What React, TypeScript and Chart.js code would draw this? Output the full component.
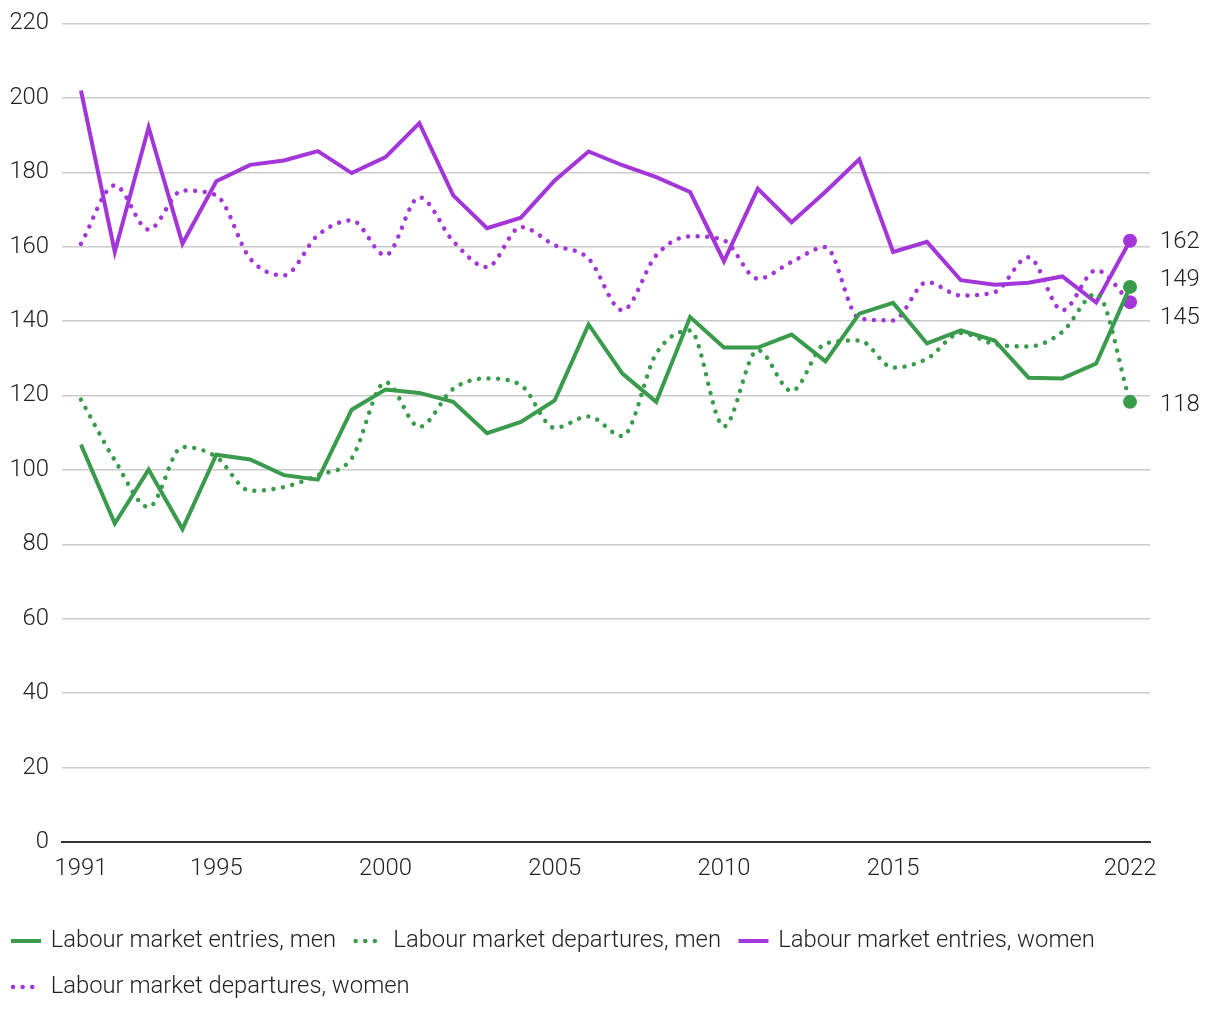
import React, { useEffect, useRef } from 'react';
import { Chart, registerables } from 'chart.js';

Chart.register(...registerables);

const years = [
  1991, 1992, 1993, 1994, 1995, 1996, 1997, 1998, 1999, 2000, 2001, 2002, 2003, 2004, 2005, 2006,
  2007, 2008, 2009, 2010, 2011, 2012, 2013, 2014, 2015, 2016, 2017, 2018, 2019, 2020, 2021, 2022,
];

const entriesMen = [
  106.8, 85.6, 100.1, 84.1, 104.1, 102.8, 98.6, 97.4, 116.2, 121.6, 120.7, 118.3,
  109.9, 112.9, 118.7, 139.1, 125.9, 118.3, 141.1, 132.9, 132.9, 136.4, 129.2,
  142.0, 144.9, 134.0, 137.5, 134.8, 124.8, 124.6, 128.6, 149.2,
];

const departuresMen = [
  118.9, 102.6, 90.0, 106.2, 103.5, 94.4, 95.4, 98.6, 103.1, 123.6, 111.6, 121.8,
  124.6, 122.8, 111.3, 114.4, 109.1, 131.3, 137.5, 111.7, 132.2, 121.2, 134.0,
  134.8, 127.5, 129.9, 136.8, 133.8, 133.2, 137.1, 147.4, 118.3,
];

const entriesWomen = [
  202.0, 158.6, 192.1, 160.8, 177.6, 182.0, 183.2, 185.7, 179.8, 184.1, 193.2, 173.8,
  165.0, 167.8, 177.8, 185.6, 181.9, 178.7, 174.7, 156.1, 175.6, 166.6, 174.8,
  183.5, 158.6, 161.3, 151.0, 149.8, 150.3, 152.0, 145.0, 161.6,
];

const departuresWomen = [
  160.8, 176.5, 164.6, 175.1, 173.8, 156.8, 152.3, 163.1, 167.1, 157.7, 173.3, 161.5,
  154.5, 165.3, 160.4, 156.8, 142.9, 157.7, 162.8, 161.7, 151.4, 155.9, 159.9,
  140.7, 140.2, 150.5, 146.9, 147.8, 157.2, 142.9, 153.7, 145.1,
];

const seriesLabels = [
  'Labour market entries, men',
  'Labour market departures, men',
  'Labour market entries, women',
  'Labour market departures, women',
];

const xTickValues = [1991, 1995, 2000, 2005, 2010, 2015, 2022];

const GREEN = '#3a9b4c';
const PURPLE = '#a336d9';
const TEXT = '#222222';
const FONT = 'Roboto, "Noto Sans", sans-serif';
const FONT_SIZE = 23.8;
const FONT_WEIGHT = 300;

const DOT_DASH = [0.01, 9.6];

const endLabelsPlugin = {
  id: 'endLabels',
  afterDatasetsDraw(chart: any) {
    const ctx = chart.ctx;
    const gap = 38;
    const items: any[] = chart.data.datasets.map((ds: any, i: number) => {
      const meta = chart.getDatasetMeta(i);
      const pt = meta.data[meta.data.length - 1];
      const v = ds.data[ds.data.length - 1].y;
      return { ideal: pt.y, y: pt.y, text: String(Math.round(v)) };
    });
    items.sort((a, b) => a.ideal - b.ideal);
    const layout = (c: any[]) => {
      const m = c.reduce((s, it) => s + it.ideal, 0) / c.length;
      const start = m - ((c.length - 1) * gap) / 2;
      c.forEach((it, k) => (it.y = start + k * gap));
    };
    let clusters: any[][] = items.map((it) => [it]);
    clusters.forEach(layout);
    let changed = true;
    while (changed) {
      changed = false;
      for (let i = 0; i < clusters.length - 1; i++) {
        const a = clusters[i];
        const b = clusters[i + 1];
        if (b[0].y - a[a.length - 1].y < gap - 0.01) {
          const merged = a.concat(b);
          layout(merged);
          clusters.splice(i, 2, merged);
          changed = true;
          break;
        }
      }
    }
    ctx.save();
    ctx.font = `${FONT_WEIGHT} ${FONT_SIZE}px ${FONT}`;
    ctx.fillStyle = TEXT;
    ctx.textAlign = 'left';
    ctx.textBaseline = 'middle';
    items.forEach((it) => {
      ctx.fillText(it.text, chart.chartArea.right + 10, it.y + 3);
    });
    ctx.restore();
  },
};

const legendPlugin = {
  id: 'bottomLegend',
  afterDraw(chart: any) {
    const ctx = chart.ctx;
    ctx.save();
    ctx.font = `${FONT_WEIGHT} ${FONT_SIZE}px ${FONT}`;
    ctx.textBaseline = 'middle';
    ctx.textAlign = 'left';
    const startX = 11;
    let x = startX;
    let y = chart.chartArea.bottom + 99;
    const rowH = 46;
    const lineW = 30;
    const textGap = 9.7;
    const itemGap = 17.5;
    const maxX = chart.width - 5;
    chart.data.datasets.forEach((ds: any) => {
      const tw = ctx.measureText(ds.label).width;
      const w = lineW + textGap + tw;
      if (x > startX && x + w > maxX) {
        x = startX;
        y += rowH;
      }
      const dotted = ds.borderDash && ds.borderDash.length > 0;
      ctx.beginPath();
      ctx.strokeStyle = ds.borderColor;
      ctx.lineWidth = dotted ? 4.5 : 4;
      ctx.lineCap = dotted ? 'round' : 'butt';
      ctx.setLineDash(dotted ? ds.borderDash : []);
      ctx.moveTo(x + (dotted ? 2 : 0), y);
      ctx.lineTo(x + lineW, y);
      ctx.stroke();
      ctx.setLineDash([]);
      ctx.fillStyle = TEXT;
      ctx.fillText(ds.label, x + lineW + textGap, y);
      x += w + itemGap;
    });
    ctx.restore();
  },
};

function toPoints(values: number[]) {
  return years.map((yr, i) => ({ x: yr, y: values[i] }));
}

export default function App() {
  const canvasRef = useRef<HTMLCanvasElement | null>(null);

  useEffect(() => {
    document.body.style.margin = '0';
    const canvas = canvasRef.current;
    if (!canvas) return;
    const last = years.length - 1;
    const mk = (label: string, values: number[], color: string, dotted: boolean) => ({
      label,
      data: toPoints(values),
      borderColor: color,
      backgroundColor: color,
      borderWidth: dotted ? 4.5 : 4,
      borderDash: dotted ? DOT_DASH : [],
      borderCapStyle: dotted ? 'round' : 'butt',
      tension: dotted ? 0.4 : 0,
      cubicInterpolationMode: dotted ? 'monotone' : 'default',
      pointRadius: (c: any) => (c.dataIndex === last ? 7 : 0),
      pointHoverRadius: (c: any) => (c.dataIndex === last ? 7 : 0),
      pointBorderWidth: 0,
      pointBackgroundColor: color,
      fill: false,
    });

    const chart = new Chart(canvas, {
      type: 'line',
      data: {
        datasets: [
          mk(seriesLabels[0], entriesMen, GREEN, false),
          mk(seriesLabels[1], departuresMen, GREEN, true),
          mk(seriesLabels[2], entriesWomen, PURPLE, false),
          mk(seriesLabels[3], departuresWomen, PURPLE, true),
        ] as any,
      },
      options: {
        responsive: false,
        animation: false,
        devicePixelRatio: 1,
        layout: { padding: { top: 23.5, right: 70, bottom: 128, left: 0 } },
        plugins: {
          legend: { display: false },
          tooltip: { enabled: false },
        },
        scales: {
          x: {
            type: 'linear',
            min: 1990.44,
            max: 2022.59,
            grid: { display: false, drawTicks: false },
            border: { display: true, color: '#333333', width: 2 },
            ticks: {
              autoSkip: false,
              maxRotation: 0,
              padding: 13,
              color: TEXT,
              font: { family: FONT, size: FONT_SIZE, weight: FONT_WEIGHT as any },
              callback: (v: any) => String(v),
            },
            afterBuildTicks: (s: any) => {
              s.ticks = xTickValues.map((v) => ({ value: v }));
            },
            afterFit: (s: any) => {
              s.height = 50;
              s.paddingLeft = 0;
              s.paddingRight = 0;
            },
          },
          y: {
            min: 0,
            max: 220,
            grid: { color: '#cccccc', lineWidth: 1.5, drawTicks: false },
            border: { display: false },
            ticks: {
              stepSize: 20,
              padding: 13,
              color: TEXT,
              font: { family: FONT, size: FONT_SIZE, weight: FONT_WEIGHT as any },
            },
            afterFit: (s: any) => {
              s.width = 62;
              s.paddingTop = 0;
              s.paddingBottom = 0;
            },
          },
        },
      },
      plugins: [endLabelsPlugin, legendPlugin],
    } as any);

    return () => {
      chart.destroy();
    };
  }, []);

  return (
    <div style={{ width: 1220, height: 1020 }}>
      <canvas ref={canvasRef} width={1220} height={1020} style={{ display: 'block', width: 1220, height: 1020 }} />
    </div>
  );
}
